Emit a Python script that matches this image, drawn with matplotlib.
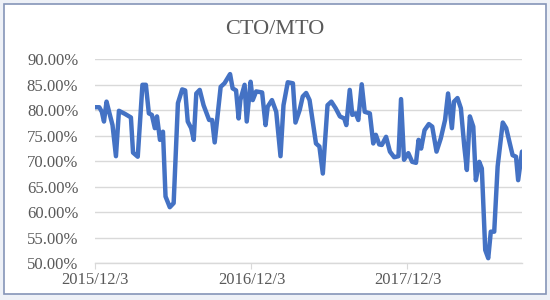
import numpy as np
import pandas as pd
import matplotlib
matplotlib.use("Agg")
import matplotlib.pyplot as plt
from matplotlib.patches import Rectangle

# 读取自原图的折线顶点（日期, 百分比）
dates = [
    "2015-12-03", "2015-12-13", "2015-12-19", "2015-12-24", "2015-12-30",
    "2016-01-05", "2016-01-13", "2016-01-21", "2016-01-28", "2016-02-11",
    "2016-02-25", "2016-03-01", "2016-03-12", "2016-03-23", "2016-03-31",
    "2016-04-07", "2016-04-14", "2016-04-21", "2016-04-26", "2016-05-03",
    "2016-05-10", "2016-05-16", "2016-05-26", "2016-06-04", "2016-06-14",
    "2016-06-24", "2016-07-01", "2016-07-07", "2016-07-15", "2016-07-21",
    "2016-07-27", "2016-08-04", "2016-08-13", "2016-08-26", "2016-09-02",
    "2016-09-08", "2016-09-22", "2016-10-01", "2016-10-14", "2016-10-20",
    "2016-10-28", "2016-11-03", "2016-11-07", "2016-11-17", "2016-11-22",
    "2016-12-01", "2016-12-06", "2016-12-14", "2016-12-28", "2017-01-05",
    "2017-01-10", "2017-01-20", "2017-01-30", "2017-02-09", "2017-02-16",
    "2017-02-26", "2017-03-10", "2017-03-16", "2017-03-26", "2017-04-02",
    "2017-04-10", "2017-04-18", "2017-05-03", "2017-05-11", "2017-05-19",
    "2017-05-30", "2017-06-08", "2017-06-18", "2017-06-28", "2017-07-08",
    "2017-07-13", "2017-07-21", "2017-07-27", "2017-08-04", "2017-08-10",
    "2017-08-18", "2017-08-25", "2017-09-06", "2017-09-14", "2017-09-20",
    "2017-09-28", "2017-10-04", "2017-10-14", "2017-10-23", "2017-11-02",
    "2017-11-12", "2017-11-18", "2017-11-25", "2017-12-05", "2017-12-14",
    "2017-12-23", "2017-12-29", "2018-01-04", "2018-01-12", "2018-01-22",
    "2018-01-30", "2018-02-09", "2018-02-19", "2018-03-01", "2018-03-08",
    "2018-03-17", "2018-03-22", "2018-03-30", "2018-04-07", "2018-04-15",
    "2018-04-21", "2018-04-28", "2018-05-06", "2018-05-12", "2018-05-20",
    "2018-05-26", "2018-06-03", "2018-06-10", "2018-06-16", "2018-06-24",
    "2018-07-02", "2018-07-14", "2018-07-22", "2018-08-06", "2018-08-14",
    "2018-08-19", "2018-08-28",
]
ratio = [
    80.6, 80.6, 79.7, 77.8, 81.7,
    79.7, 77.1, 71.0, 79.9, 79.3,
    78.6, 71.7, 70.9, 85.0, 85.0,
    79.4, 79.1, 76.5, 78.8, 74.2,
    75.8, 63.1, 61.0, 61.8, 81.4,
    84.1, 83.9, 77.8, 76.5, 74.2,
    83.3, 84.0, 81.0, 78.1, 78.1,
    73.7, 84.6, 85.3, 87.1, 84.3,
    83.9, 78.4, 82.0, 85.0, 77.8,
    85.6, 82.0, 83.7, 83.5, 77.1,
    80.7, 82.0, 79.7, 71.0, 81.0,
    85.5, 85.3, 77.6, 80.1, 82.7,
    83.4, 82.0, 73.5, 72.9, 67.6,
    81.0, 81.7, 80.4, 78.8, 78.4,
    77.1, 84.0, 79.1, 79.4, 78.1,
    85.1, 79.7, 79.4, 73.5, 75.2,
    73.3, 73.2, 74.8, 71.9, 70.8,
    71.0, 82.2, 70.3, 71.6, 69.9,
    69.7, 74.2, 72.5, 76.1, 77.3,
    76.8, 71.9, 74.5, 78.1, 83.3,
    76.5, 81.7, 82.4, 80.4, 72.9,
    68.3, 78.8, 76.8, 66.3, 69.9,
    68.6, 52.6, 51.0, 56.2, 56.2,
    69.0, 77.6, 76.5, 71.2, 70.9,
    66.3, 71.9,
]
x_ticks = ["2015-12-03", "2016-12-03", "2017-12-03"]
x_tick_labels = ["2015/12/3", "2016/12/3", "2017/12/3"]
y_ticks = [50, 55, 60, 65, 70, 75, 80, 85, 90]

title = "CTO/MTO"

x = pd.to_datetime(dates)
grey = "#595959"

fig = plt.figure(figsize=(5.5, 3.0), dpi=100, facecolor="#eef1f7")
# 外框
fig.patches.append(Rectangle((4 / 550, 6 / 300), 542 / 550, 290 / 300,
                             transform=fig.transFigure, facecolor="white",
                             edgecolor="#8595b8", linewidth=1.2, zorder=-1))

ax = fig.add_axes([95 / 550, 1 - 263.3 / 300, 427 / 550, 204 / 300])
ax.set_facecolor("none")
ax.plot(x, ratio, color="#4472c4", linewidth=3.2, solid_joinstyle="round",
        solid_capstyle="round", zorder=3)

ax.set_xlim(x[0], x[-1])
ax.set_ylim(50, 90)
ax.set_yticks(y_ticks)
ax.set_yticklabels([f"{v:.2f}%" for v in y_ticks], fontfamily="Liberation Serif",
                   fontsize=12, color=grey)
ax.set_xticks(pd.to_datetime(x_ticks))
ax.set_xticklabels(x_tick_labels, fontfamily="Liberation Serif", fontsize=12,
                   color=grey)

ax.grid(axis="y", color="#d9d9d9", linewidth=1.0)
ax.grid(axis="x", visible=False)
for s in ["top", "right", "left"]:
    ax.spines[s].set_visible(False)
ax.spines["bottom"].set_color("#d9d9d9")
ax.spines["bottom"].set_linewidth(1.0)
ax.tick_params(axis="y", length=0, pad=12)
ax.tick_params(axis="x", length=4, color="#d9d9d9", pad=2)

fig.text(275 / 550, 1 - 30 / 300, title, ha="center", va="center",
         fontfamily="Liberation Serif", fontsize=16, color=grey)

fig.savefig("out.png", dpi=100, facecolor=fig.get_facecolor())
